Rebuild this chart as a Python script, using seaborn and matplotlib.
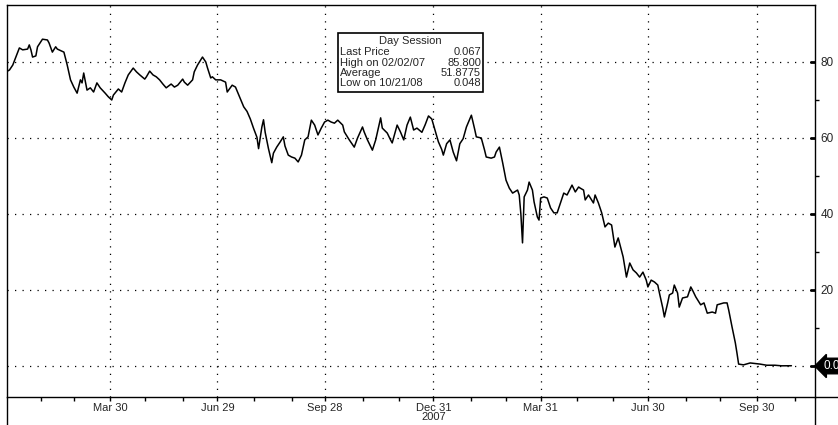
import numpy as np
import pandas as pd
import matplotlib
matplotlib.use("Agg")
import matplotlib.pyplot as plt
from matplotlib.lines import Line2D
from matplotlib.patches import Rectangle
import seaborn as sns

# ---------------- data ----------------
start_date = "2007-01-02"   # session 0 (trading sessions counted on weekdays)
session = [
    0, 2, 4, 7, 8, 10, 13, 14, 15, 16, 18, 19, 22, 25, 26, 28, 30, 31, 35, 37,
    39, 41, 43, 45, 46, 47, 49, 51, 53, 55, 57, 60, 62, 64, 65, 68, 70, 72, 74, 77,
    79, 81, 84, 85, 87, 89, 91, 93, 95, 97, 100, 102, 104, 107, 108, 110, 113, 114, 116, 119,
    121, 122, 124, 125, 127, 130, 133, 134, 137, 139, 141, 144, 146, 148, 150, 152, 153, 155, 156, 157,
    159, 161, 162, 164, 166, 168, 169, 171, 173, 175, 177, 179, 181, 183, 185, 187, 189, 191, 193, 195,
    197, 199, 201, 204, 205, 208, 211, 213, 216, 217, 219, 222, 224, 227, 228, 231, 233, 234, 237, 239,
    241, 243, 245, 247, 249, 252, 254, 256, 258, 260, 262, 264, 265, 267, 269, 271, 273, 275, 277, 279,
    282, 284, 285, 288, 290, 291, 294, 296, 297, 299, 301, 303, 305, 307, 310, 311, 312, 313, 314, 316,
    317, 319, 320, 322, 323, 324, 326, 328, 330, 332, 334, 336, 338, 340, 343, 345, 347, 348, 350, 351,
    353, 356, 357, 359, 361, 363, 365, 367, 369, 371, 374, 376, 378, 380, 382, 384, 386, 388, 389, 391,
    393, 395, 396, 398, 399, 401, 402, 404, 405, 407, 408, 410, 413, 415, 416, 418, 421, 423, 425, 428,
    430, 431, 435, 437, 438, 440, 442, 443, 444, 447, 451, 457, 461, 466, 470, 476,
]
price = [
    77.4, 77.9, 79.2, 82.6, 83.7, 83.2, 83.4, 84.5, 83.2, 81.3, 81.6, 84.0, 86.0, 85.8, 85.0, 82.6, 84.0, 83.4, 82.6, 79.2,
    75.3, 73.4, 71.8, 75.3, 74.5, 77.1, 72.6, 73.2, 72.1, 74.5, 73.2, 71.8, 70.8, 70.0, 71.3, 72.9, 72.1, 74.5, 76.6, 78.4,
    77.4, 76.6, 75.5, 76.1, 77.6, 76.6, 76.1, 75.3, 74.2, 73.2, 74.2, 73.4, 73.9, 75.5, 74.7, 73.9, 75.3, 77.4, 79.2, 81.3,
    80.0, 78.5, 75.8, 76.1, 75.3, 75.3, 74.7, 72.1, 73.9, 73.4, 71.3, 68.2, 67.0, 65.0, 62.5, 60.2, 57.2, 62.9, 64.8, 61.5,
    57.2, 53.5, 56.0, 57.6, 58.9, 60.3, 57.9, 55.5, 55.0, 54.7, 53.7, 55.5, 59.5, 60.3, 64.7, 63.4, 60.8, 62.6, 64.2, 64.7,
    64.2, 63.9, 64.7, 63.4, 61.6, 59.5, 57.6, 60.0, 62.9, 61.6, 59.5, 56.8, 59.5, 65.3, 62.6, 61.3, 59.5, 58.7, 63.4, 61.6,
    59.5, 63.4, 65.5, 62.1, 62.6, 61.5, 63.5, 65.8, 65.0, 62.0, 59.0, 57.0, 55.5, 58.5, 59.5, 56.3, 54.0, 58.5, 59.8, 62.9,
    66.0, 62.3, 60.3, 60.0, 56.8, 55.0, 54.7, 55.0, 56.3, 57.6, 53.4, 48.9, 46.8, 45.5, 46.3, 45.0, 40.0, 32.4, 44.5, 46.3,
    48.4, 46.3, 43.2, 39.2, 38.4, 44.2, 44.5, 44.2, 41.6, 40.3, 40.3, 42.9, 45.5, 45.0, 47.6, 45.8, 47.1, 46.8, 46.3, 43.7,
    45.0, 42.9, 45.0, 42.9, 40.3, 36.6, 37.6, 37.1, 31.3, 33.7, 28.7, 23.4, 27.1, 25.3, 24.5, 23.4, 24.7, 22.6, 20.8, 22.6,
    22.1, 21.3, 19.2, 15.3, 12.9, 16.6, 18.7, 19.2, 21.3, 19.2, 15.5, 17.9, 18.2, 20.8, 20.0, 18.2, 16.1, 16.6, 13.9, 14.2,
    13.9, 16.1, 16.6, 16.6, 14.7, 10.3, 6.1, 3.4, 0.5, 0.3, 0.8, 0.5, 0.2, 0.2, 0.048, 0.067,
]
tick_dates = ["2007-03-30", "2007-06-29", "2007-09-28", "2007-12-31",
              "2008-03-31", "2008-06-30", "2008-09-30"]
tick_labels = ["Mar 30", "Jun 29", "Sep 28", "Dec 31\n2007",
               "Mar 31", "Jun 30", "Sep 30"]
y_major = [0, 20, 40, 60, 80]
y_major_labels = ["", "20", "40", "60", "80"]
y_minor = [10, 30, 50, 70]
info_title = "Day Session"
info_names = ["Last Price", "High on 02/02/07", "Average", "Low on 10/21/08"]
info_values = ["0.067", "85.800", "51.8775", "0.048"]
last_price_label = "0.067"

# ---------------- figure ----------------
sns.set_theme(style="white")
plt.rcParams["font.family"] = ["Liberation Sans", "DejaVu Sans"]

W, H = 838, 425
fig = plt.figure(figsize=(W / 100, H / 100), dpi=100)
fig.patch.set_facecolor("white")

def fx(px):
    return px / W

def fy(py):
    return 1 - py / H

L, R, T, B = 7, 815, 5, 397
ax = fig.add_axes([fx(L), fy(B), (R - L) / W, (B - T) / H])
ax.set_facecolor("white")

df = pd.DataFrame({"session": session, "price": price})
sns.lineplot(data=df, x="session", y="price", ax=ax, color="black",
             linewidth=1.1, zorder=3)
ax.set_xlabel("")
ax.set_ylabel("")

# x ticks: quarter ends (major), month ends (minor), trading-session axis
tick_sessions = np.busday_count(start_date, np.array(tick_dates, dtype="datetime64[D]"))
month_ends = pd.bdate_range("2007-01-01", "2008-10-31", freq="BME")
minor_sessions = np.busday_count(start_date, month_ends.values.astype("datetime64[D]"))
ax.set_xticks(tick_sessions)
ax.set_xticklabels(tick_labels, linespacing=0.95)
ax.set_xticks(minor_sessions, minor=True)
ax.tick_params(axis="x", which="major", direction="out", length=3, width=1,
               color="black", labelsize=8, pad=1, bottom=True)
ax.tick_params(axis="x", which="minor", direction="out", length=3, width=1,
               color="black", bottom=True)

# y ticks on right
ax.yaxis.tick_right()
ax.set_yticks(y_major)
ax.set_yticklabels(y_major_labels)
ax.set_yticks(y_minor, minor=True)
ax.tick_params(axis="y", which="major", direction="in", length=3.5, width=2,
               color="black", labelsize=8.5, pad=4, left=False, right=True)
ax.tick_params(axis="y", which="minor", direction="out", length=3, width=1,
               color="black", left=False, right=True)

# limits set after ticks so the tick locations cannot widen them
ax.set_xlim(0.5, 490.3)
ax.set_ylim(-8.16, 95.0)

ax.grid(True, which="major", color="black", linestyle=(0, (1, 5)), linewidth=0.9)

for sp in ax.spines.values():
    sp.set_visible(True)
    sp.set_color("black")
    sp.set_linewidth(1.0)

# spine extensions reaching the figure edge
fig.add_artist(Line2D([fx(L), fx(L)], [0, fy(B)], color="black", lw=1.0))
fig.add_artist(Line2D([fx(R), fx(R)], [0, fy(B)], color="black", lw=1.0))
fig.add_artist(Line2D([fx(R), 1], [fy(B), fy(B)], color="black", lw=1.0))

# last price flag (cut by the right edge, as in the original)
fig.text(fx(823), fy(366), last_price_label, color="white", fontsize=8.5,
         ha="left", va="center",
         bbox=dict(boxstyle="larrow,pad=0.15", fc="black", ec="black"))

# info box
bx0, by0, bx1, by1 = 338, 33, 483, 92
fig.add_artist(Rectangle((fx(bx0), fy(by1)), (bx1 - bx0) / W, (by1 - by0) / H,
                         facecolor="white", edgecolor="black", lw=1.2, zorder=5))
fig.text(fx((bx0 + bx1) / 2), fy(41), info_title, fontsize=8, ha="center",
         va="center", zorder=6)
row_y = [52, 62.5, 73, 83.5]
for name, val, yy in zip(info_names, info_values, row_y):
    fig.text(fx(bx0 + 2), fy(yy), name, fontsize=8, ha="left", va="center", zorder=6)
    fig.text(fx(bx1 - 2), fy(yy), val, fontsize=8, ha="right", va="center", zorder=6)

fig.savefig("out.png", dpi=100, facecolor="white")
